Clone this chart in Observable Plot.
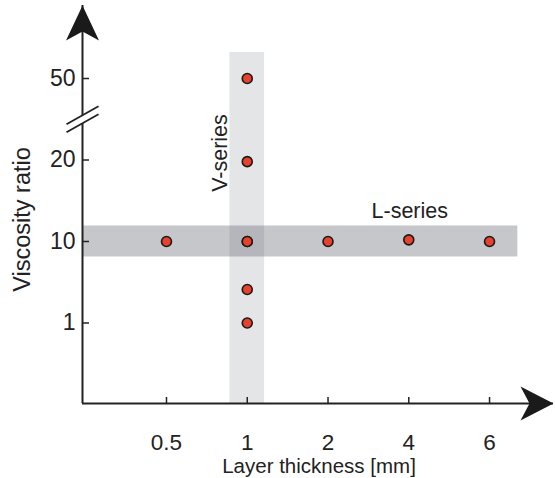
<!DOCTYPE html>
<html><head><meta charset="utf-8">
<script src="https://cdn.jsdelivr.net/npm/d3@7"></script>
<script src="https://cdn.jsdelivr.net/npm/@observablehq/plot@0.6"></script>
<style>body{margin:0;background:#fff} #chart svg{display:block}</style>
</head><body><div id="chart"></div>
<script>
// ---- data ----
const thicknessCategories = ["0.5", "1", "2", "4", "6"];
const viscosityTicks = [1, 10, 20, 50];
const viscosityTickLabels = ["1", "10", "20", "50"];
const vSeriesThickness = ["1", "1", "1", "1", "1"];
const vSeriesViscosity = [50, 19.8, 10, 4.7, 1];
const lSeriesThickness = ["0.5", "1", "2", "4", "6"];
const lSeriesViscosity = [10, 10, 10, 10.2, 10];
const xTitle = "Layer thickness [mm]";
const yTitle = "Viscosity ratio";
const vLabel = "V-series";
const lLabel = "L-series";

// ---- position helpers (category index / piecewise tick rank) ----
const xPos = d3.scaleOrdinal(thicknessCategories, d3.range(thicknessCategories.length));
const yPos = d3.scaleLinear(viscosityTicks, d3.range(viscosityTicks.length));

const points = [
  ...vSeriesThickness.map((t, i) => ({t, v: vSeriesViscosity[i], s: "V"})),
  ...lSeriesThickness.map((t, i) => ({t, v: lSeriesViscosity[i], s: "L"}))
];

const xDom = [-1.04, 4.792];
const yDom = [-0.988, 3.896];

const vBand = [{x1: xPos("1") - 0.215, x2: xPos("1") + 0.215, y1: yDom[0], y2: yPos(50) + 0.32}];
const hBand = [{x1: xDom[0], x2: xPos("6") + 0.35, y1: yPos(10) - 0.19, y2: yPos(10) + 0.19}];

const arrowUp = {draw(c) { c.moveTo(0, 0); c.lineTo(16.5, 35); c.lineTo(0, 26); c.lineTo(-16.5, 35); c.closePath(); }};
const arrowRight = {draw(c) { c.moveTo(0, 0); c.lineTo(-33, 17); c.lineTo(-24, 0); c.lineTo(-33, -17); c.closePath(); }};
const breakFill = {draw(c) { c.moveTo(-16, 13); c.lineTo(16, -5); c.lineTo(16, -13); c.lineTo(-16, 5); c.closePath(); }};
const breakLines = {draw(c) { c.moveTo(-16, 13); c.lineTo(16, -5); c.moveTo(-16, 5); c.lineTo(16, -13); }};

const ink = "#222";
const font = "Liberation Sans, Arial, Helvetica, sans-serif";
const frameW = 555 - 82 - 2, frameH = 478 - 5 - 75;

const chart = Plot.plot({
  width: 555, height: 478,
  marginTop: 5, marginRight: 2, marginBottom: 75, marginLeft: 82,
  style: {fontFamily: font, background: "#fff"},
  x: {type: "linear", domain: xDom, axis: null},
  y: {type: "linear", domain: yDom, axis: null},
  marks: [
    Plot.rect(vBand, {x1: "x1", x2: "x2", y1: "y1", y2: "y2", fill: "#e4e5e7"}),
    Plot.rect(hBand, {x1: "x1", x2: "x2", y1: "y1", y2: "y2", fill: "#65686e", fillOpacity: 0.37}),
    Plot.ruleY([yDom[0]], {stroke: ink, strokeWidth: 2}),
    Plot.ruleX([xDom[0]], {stroke: ink, strokeWidth: 2}),
    Plot.tickX(thicknessCategories, {x: d => xPos(d), insetTop: frameH - 6, stroke: ink, strokeWidth: 1.5}),
    Plot.tickY(viscosityTicks, {y: d => yPos(d), insetRight: frameW - 7, stroke: ink, strokeWidth: 1.5}),
    Plot.dot([(yPos(20) + yPos(50)) / 2], {x: () => xDom[0], y: d => d, symbol: breakFill, fill: "#fff", stroke: "none"}),
    Plot.dot([(yPos(20) + yPos(50)) / 2], {x: () => xDom[0], y: d => d, symbol: breakLines, fill: "none", stroke: ink, strokeWidth: 1.8}),
    Plot.dot([0], {x: () => xDom[0], y: () => yDom[1], symbol: arrowUp, fill: "#1a1a1a", stroke: "none"}),
    Plot.dot([0], {x: () => xDom[1], y: () => yDom[0], symbol: arrowRight, fill: "#1a1a1a", stroke: "none"}),
    Plot.dot(points, {x: d => xPos(d.t), y: d => yPos(d.v), r: 5, fill: "#e8412c", stroke: "#1a1a1a", strokeWidth: 1.6}),
    Plot.text(thicknessCategories, {x: d => xPos(d), text: d => d, frameAnchor: "bottom", lineAnchor: "middle", dy: 39, fontSize: 22.5, fill: ink}),
    Plot.text(viscosityTicks, {y: d => yPos(d), text: (d, i) => viscosityTickLabels[i], frameAnchor: "left", textAnchor: "end", lineAnchor: "middle", dx: -7, fontSize: 23, fill: ink}),
    Plot.text([xTitle], {text: d => d, frameAnchor: "bottom", lineAnchor: "middle", textAnchor: "middle", dx: 1, dy: 63, fontSize: 20.5, fill: ink}),
    Plot.text([yTitle], {text: d => d, frameAnchor: "left", textAnchor: "middle", lineAnchor: "middle", dx: -60, dy: 15, rotate: -90, fontSize: 23.5, fill: ink}),
    Plot.text([vLabel], {x: () => xPos("1"), y: () => yPos(20), text: d => d, dx: -27, dy: -7, rotate: -90, fontSize: 21.5, fill: ink}),
    Plot.text([lLabel], {x: () => xPos("4"), y: () => yPos(10), text: d => d, dx: 1, dy: -30, fontSize: 21.5, fill: ink})
  ]
});
document.getElementById("chart").appendChild(chart);
</script>
</body></html>
